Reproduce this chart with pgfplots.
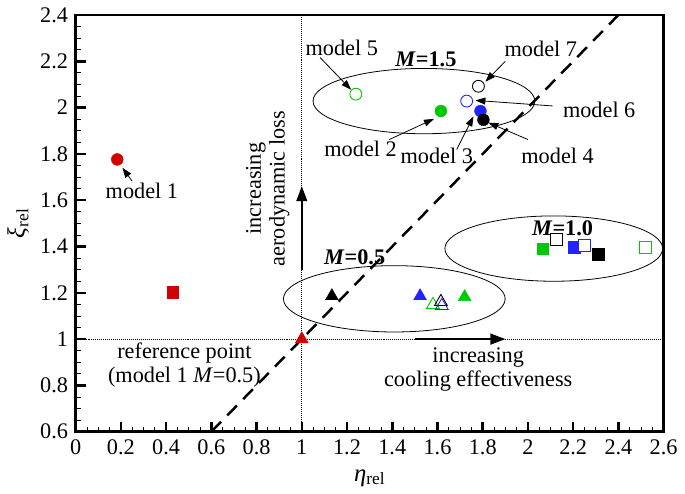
\documentclass[border=0pt]{standalone}
\usepackage{fontspec}
\setmainfont{Liberation Serif}
\usepackage{pgfplots}
\pgfplotsset{compat=1.18}
\usetikzlibrary{arrows.meta}
\definecolor{myred}{RGB}{210,0,0}
\definecolor{mygreen}{RGB}{0,200,0}
\definecolor{myblue}{RGB}{35,35,255}
\begin{document}
\fontsize{22.5}{24}\selectfont
\begin{tikzpicture}
\begin{axis}[
  scale only axis, width=594pt, height=421pt,
  xmin=0, xmax=2.6, ymin=0.6, ymax=2.4,
  xtick={0,0.2,0.4,0.6,0.8,1,1.2,1.4,1.6,1.8,2,2.2,2.4,2.6},
  ytick={0.6,0.8,1,1.2,1.4,1.6,1.8,2,2.2,2.4},
  minor x tick num=3, minor y tick num=3,
  tick align=inside, xtick pos=bottom, ytick pos=left,
  major tick length=10pt, minor tick length=5pt,
  major tick style={line width=2.5pt, black},
  minor tick style={line width=0.8pt, black},
  axis line style={line width=2.5pt},
  /pgf/number format/assume math mode=true,
  ticklabel style={font=\fontsize{22.5}{24}\selectfont},
  xlabel={\textit{η}\textsubscript{rel}},
  ylabel={\textit{ξ}\textsubscript{rel}},
  label style={font=\fontsize{25}{27}\selectfont},
  ylabel style={yshift=-4pt},
  clip=false,
  every axis plot/.append style={only marks},
]
% reference lines
\draw[line width=0.8pt, dash pattern=on 1pt off 1pt] (axis cs:1,0.6) -- (axis cs:1,2.4);
\draw[line width=0.8pt, dash pattern=on 1pt off 1pt] (axis cs:0,1) -- (axis cs:2.6,1);
\addplot[sharp plot, no marks, line width=2.5pt, dash pattern=on 14pt off 9pt] coordinates {(0.6,0.6) (2.4,2.4)};
% ellipses
\draw[line width=0.8pt] (axis cs:1.54,2.028) ellipse [x radius=112pt, y radius=33pt];
\draw[line width=0.8pt] (axis cs:2.114,1.391) ellipse [x radius=110pt, y radius=33pt];
\draw[line width=0.8pt] (axis cs:1.409,1.174) ellipse [x radius=112pt, y radius=33.5pt];
% big arrows
\draw[line width=1.5pt, -{Triangle[length=15pt,width=11pt]}] (axis cs:1,1.30) -- (axis cs:1,1.66);
\draw[line width=1.5pt, -{Triangle[length=15pt,width=11pt]}] (axis cs:1.50,1) -- (axis cs:1.90,1);
% model 1 (red filled)
\addplot[mark=*, mark size=6pt, mark options={draw=myred, fill=myred}] coordinates {(0.184,1.776)};
\addplot[mark=square*, mark size=5.8pt, mark options={draw=myred, fill=myred}] coordinates {(0.43,1.203)};
\addplot[mark=triangle*, mark size=7.5pt, mark options={draw=myred, fill=myred}] coordinates {(1.0,1.0)};
% model 2 (green filled)
\addplot[mark=*, mark size=6pt, mark options={draw=mygreen, fill=mygreen}] coordinates {(1.615,1.985)};
\addplot[mark=square*, mark size=5.8pt, mark options={draw=mygreen, fill=mygreen}] coordinates {(2.066,1.391)};
\addplot[mark=triangle*, mark size=7.5pt, mark options={draw=mygreen, fill=mygreen}] coordinates {(1.72,1.182)};
% model 3 (blue filled)
\addplot[mark=*, mark size=6pt, mark options={draw=myblue, fill=myblue}] coordinates {(1.790,1.985)};
\addplot[mark=square*, mark size=5.8pt, mark options={draw=myblue, fill=myblue}] coordinates {(2.205,1.396)};
\addplot[mark=triangle*, mark size=7.5pt, mark options={draw=myblue, fill=myblue}] coordinates {(1.523,1.186)};
% model 4 (black filled)
\addplot[mark=*, mark size=6pt, mark options={draw=black, fill=black}] coordinates {(1.803,1.947)};
\addplot[mark=square*, mark size=5.8pt, mark options={draw=black, fill=black}] coordinates {(2.31,1.366)};
\addplot[mark=triangle*, mark size=7.5pt, mark options={draw=black, fill=black}] coordinates {(1.133,1.186)};
% model 5 (green open)
\addplot[mark=*, mark size=6pt, mark options={draw=mygreen, fill=white, line width=0.9pt}] coordinates {(1.239,2.058)};
\addplot[mark=square*, mark size=5.8pt, mark options={draw=mygreen, fill=white, line width=0.9pt}] coordinates {(2.52,1.396)};
\addplot[mark=triangle, mark size=7.5pt, mark options={draw=mygreen, line width=0.9pt}] coordinates {(1.58,1.148)};
% model 7 (black open)
\addplot[mark=*, mark size=6pt, mark options={draw=black, fill=white, line width=0.9pt}] coordinates {(1.781,2.092)};
\addplot[mark=square*, mark size=5.8pt, mark options={draw=black, fill=white, line width=0.9pt}] coordinates {(2.127,1.430)};
\addplot[mark=triangle, mark size=7.5pt, mark options={draw=black, line width=0.9pt}] coordinates {(1.615,1.161)};
% model 6 (blue open)
\addplot[mark=*, mark size=6pt, mark options={draw=myblue, fill=white, line width=0.9pt}] coordinates {(1.729,2.028)};
\addplot[mark=square*, mark size=5.8pt, mark options={draw=myblue, fill=white, line width=0.9pt}] coordinates {(2.25,1.404)};
\addplot[mark=triangle, mark size=7.5pt, mark options={draw=myblue, line width=0.9pt}] coordinates {(1.619,1.144)};
% annotation arrows
\tikzset{ann/.style={line width=0.8pt, -{Triangle[length=10pt,width=7pt]}}}
\draw[ann] (axis cs:0.25,1.682) -- (axis cs:0.207,1.740);
\draw[ann] (axis cs:1.081,2.216) -- (axis cs:1.218,2.077);
\draw[ann] (axis cs:1.387,1.862) -- (axis cs:1.584,1.951);
\draw[ann] (axis cs:1.685,1.819) -- (axis cs:1.759,1.962);
\draw[ann] (axis cs:2.0,1.862) -- (axis cs:1.825,1.935);
\draw[ann] (axis cs:2.109,2.007) -- (axis cs:1.768,2.031);
\draw[ann] (axis cs:1.9,2.2) -- (axis cs:1.812,2.112);
% texts
\node at (axis cs:0.293,1.639) {model 1};
\node at (axis cs:1.177,2.259) {model 5};
\node at (axis cs:1.26,1.823) {model 2};
\node at (axis cs:1.597,1.793) {model 3};
\node at (axis cs:2.131,1.793) {model 4};
\node at (axis cs:2.315,1.99) {model 6};
\node at (axis cs:2.057,2.255) {model 7};
\node at (axis cs:1.549,2.208) {\textbf{\textit{M}=1.5}};
\node at (axis cs:2.153,1.477) {\textbf{\textit{M}=1.0}};
\node at (axis cs:1.234,1.353) {\textbf{\textit{M}=0.5}};
\node[align=center, rotate=90] at (axis cs:0.85,1.65) {increasing\\aerodynamic loss};
\node[align=center] at (axis cs:1.78,0.87) {increasing\\cooling effectiveness};
\node[align=center] at (axis cs:0.481,0.887) {reference point\\(model 1 \textit{M}=0.5)};
\end{axis}
\end{tikzpicture}
\end{document}
